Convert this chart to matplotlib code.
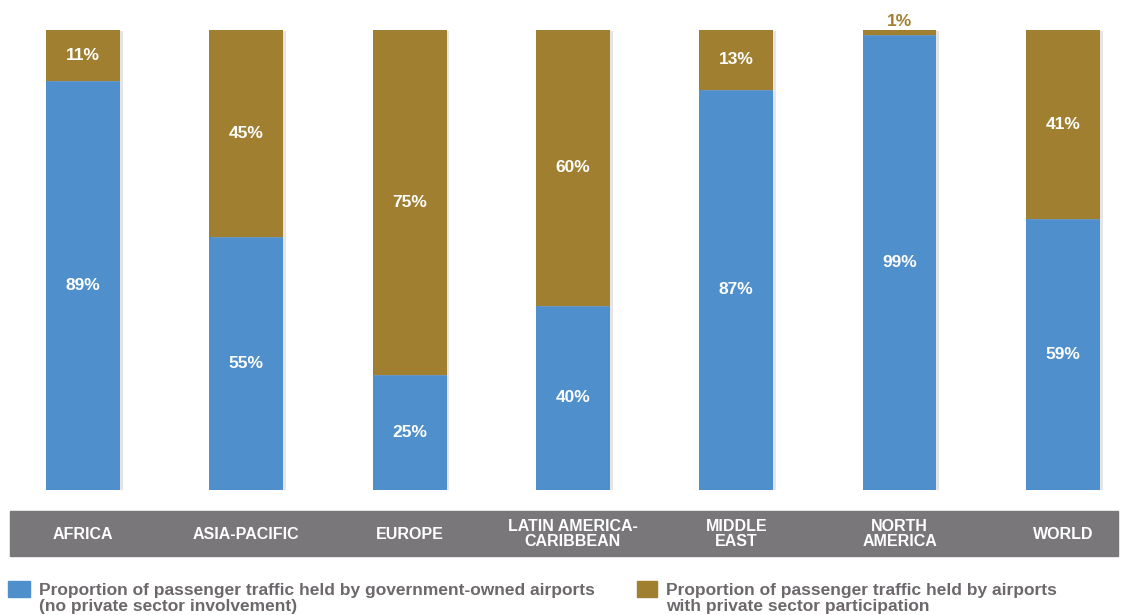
import matplotlib.pyplot as plt
from matplotlib.patches import Rectangle
import matplotlib.patheffects as pe

regions = ['AFRICA', 'ASIA-PACIFIC', 'EUROPE', 'LATIN AMERICA-\nCARIBBEAN',
           'MIDDLE\nEAST', 'NORTH\nAMERICA', 'WORLD']
government = [89, 55, 25, 40, 87, 99, 59]
private = [11, 45, 75, 60, 13, 1, 41]
legend_labels = ['Proportion of passenger traffic held by government-owned airports\n(no private sector involvement)',
                 'Proportion of passenger traffic held by airports\nwith private sector participation']

blue = '#4f8fcc'
gold = '#a07f30'
band = '#7a777b'
text_grey = '#6d686c'

plt.rcParams['font.family'] = ['Liberation Sans', 'DejaVu Sans']

fig = plt.figure(figsize=(11.23, 6.15), dpi=100)
W, H = 1123, 615
ax = fig.add_axes([10 / W, 1 - 490 / H, 1108 / W, 460 / H])

x = list(range(len(regions)))
shadow = [pe.SimplePatchShadow(offset=(2, -1), shadow_rgbFace='#aaaaaa', alpha=0.3), pe.Normal()]
ax.bar(x, government, width=0.453, color=blue, path_effects=shadow)
ax.bar(x, private, bottom=government, width=0.453, color=gold, path_effects=shadow)

ax.set_xlim(-0.447, 6.338)
ax.set_ylim(0, 100)
ax.axis('off')

for i in x:
    ax.text(i, government[i] / 2, f'{government[i]}%', ha='center', va='center',
            color='white', fontsize=12.5, fontweight='bold')
    if private[i] >= 5:
        ax.text(i, government[i] + private[i] / 2, f'{private[i]}%', ha='center', va='center',
                color='white', fontsize=12.5, fontweight='bold')
    else:
        ax.text(i, 100.3, f'{private[i]}%', ha='center', va='bottom',
                color=gold, fontsize=12.5, fontweight='bold')

# grey category band under the bars
ax.add_patch(Rectangle((-0.447, -14.35), 6.785, 9.78, color=band, clip_on=False))
for i in x:
    ax.text(i, -9.6, regions[i], ha='center', va='center', color='white',
            fontsize=11.5, fontweight='bold', linespacing=1.0, clip_on=False)

# legend
fig.patches.append(Rectangle((8 / W, 1 - 597 / H), 22 / W, 16 / H, color=blue,
                             transform=fig.transFigure, figure=fig))
fig.text(39 / W, 1 - 598.5 / H, legend_labels[0], ha='left', va='center', color=text_grey,
         fontsize=12.5, fontweight='bold', linespacing=1.15)
fig.patches.append(Rectangle((637 / W, 1 - 597 / H), 20 / W, 16 / H, color=gold,
                             transform=fig.transFigure, figure=fig))
fig.text(666 / W, 1 - 598.5 / H, legend_labels[1], ha='left', va='center', color=text_grey,
         fontsize=12.5, fontweight='bold', linespacing=1.15)

fig.savefig('out.png', dpi=100)
